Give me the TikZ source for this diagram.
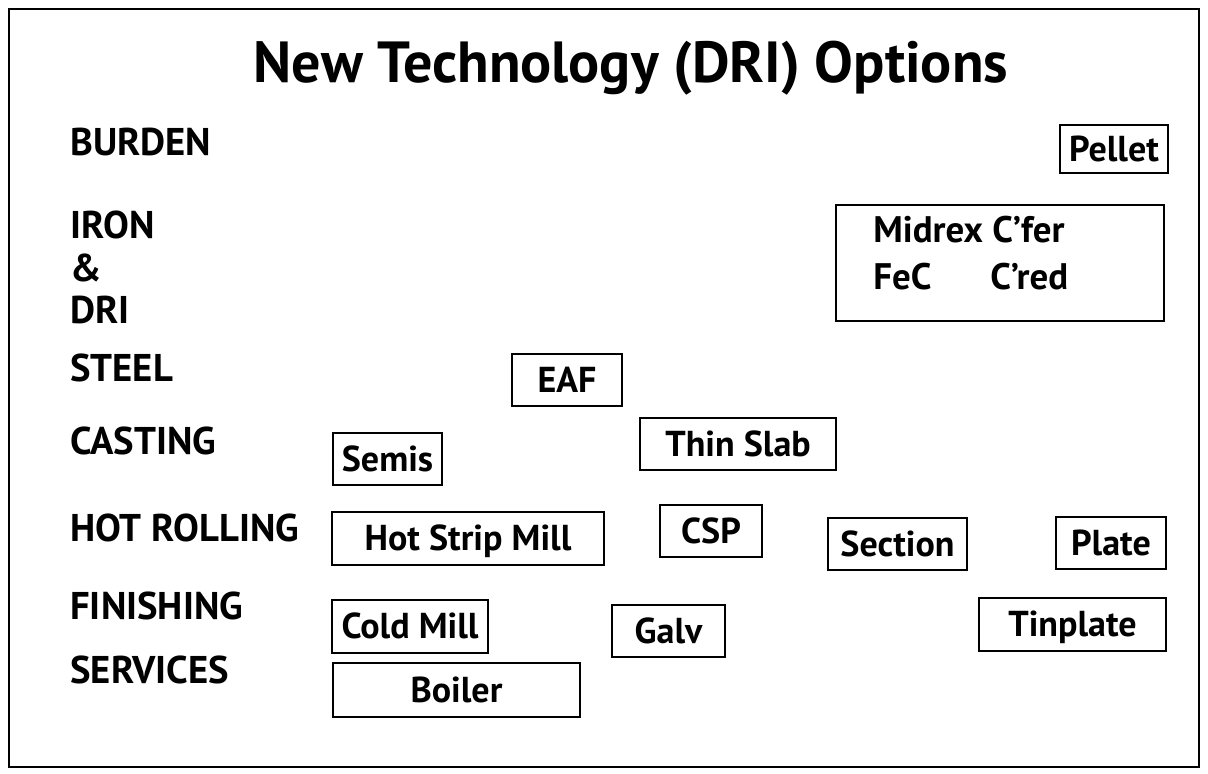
\documentclass[tikz,border=0pt]{standalone}
\usepackage{fontspec}
\setmainfont{PT Sans}
\usepackage{tikz}
\usetikzlibrary{positioning}

\begin{document}
\begin{tikzpicture}[x=0.2mm,y=-0.2mm,
    optbox/.style={draw,line width=1.1pt,inner sep=0pt,text height=14pt,text depth=0pt,font=\fontsize{20.5}{22}\selectfont\bfseries},
    stage/.style={anchor=west,inner sep=0pt,font=\fontsize{22}{24}\selectfont\bfseries},
    inbox/.style={anchor=west,inner sep=0pt,font=\fontsize{21}{23}\selectfont\bfseries}]
            \useasboundingbox (0,0) rectangle (1208,773);
            \draw[line width=1.3pt] (9,9) rectangle (1199,767);
            \node[font=\fontsize{33}{35}\selectfont\bfseries] (title) at (631,68) {New Technology (DRI) Options};
            % stages
            \node[stage] (burden) at (70,142) {BURDEN};
            \node[stage] (iron) at (70,225) {IRON};
            \node[stage] (amp) at (70,268) {\&};
            \node[stage] (dri) at (70,310) {DRI};
            \node[stage] (steel) at (70,368) {STEEL};
            \node[stage] (casting) at (70,441) {CASTING};
            \node[stage] (hot) at (70,528) {HOT ROLLING};
            \node[stage] (finishing) at (70,606) {FINISHING};
            \node[stage] (services) at (70,670) {SERVICES};
            % options
            \node[optbox,minimum width=108*0.2mm,minimum height=48*0.2mm] (pellet) at (1114,149) {Pellet};
            \node[optbox,minimum width=328*0.2mm,minimum height=116*0.2mm] (midrex) at (1000,263) {};
            \node[inbox] (mc) at (873,230) {Midrex C'fer};
            \node[inbox] (fec) at (873,277) {FeC};
            \node[inbox] (cred) at (990,277) {C'red};
            \node[optbox,minimum width=110*0.2mm,minimum height=52*0.2mm] (eaf) at (567,380) {EAF};
            \node[optbox,minimum width=196*0.2mm,minimum height=52*0.2mm] (thin) at (738,444) {Thin Slab};
            \node[optbox,minimum width=109*0.2mm,minimum height=52*0.2mm] (semis) at (387.5,459) {Semis};
            \node[optbox,minimum width=272*0.2mm,minimum height=53*0.2mm] (hsm) at (468,538.5) {Hot Strip Mill};
            \node[optbox,minimum width=102*0.2mm,minimum height=52*0.2mm] (csp) at (711,531) {CSP};
            \node[optbox,minimum width=139*0.2mm,minimum height=52*0.2mm] (section) at (897.5,544) {Section};
            \node[optbox,minimum width=110*0.2mm,minimum height=52*0.2mm] (plate) at (1111,543) {Plate};
            \node[optbox,minimum width=156*0.2mm,minimum height=53*0.2mm] (cold) at (410,626.5) {Cold Mill};
            \node[optbox,minimum width=113*0.2mm,minimum height=52*0.2mm] (galv) at (668.5,631) {Galv};
            \node[optbox,minimum width=187*0.2mm,minimum height=53*0.2mm] (tin) at (1072.5,624.5) {Tinplate};
            \node[optbox,minimum width=247*0.2mm,minimum height=54*0.2mm] (boiler) at (456.5,690) {Boiler};
        \end{tikzpicture}
\end{document}
